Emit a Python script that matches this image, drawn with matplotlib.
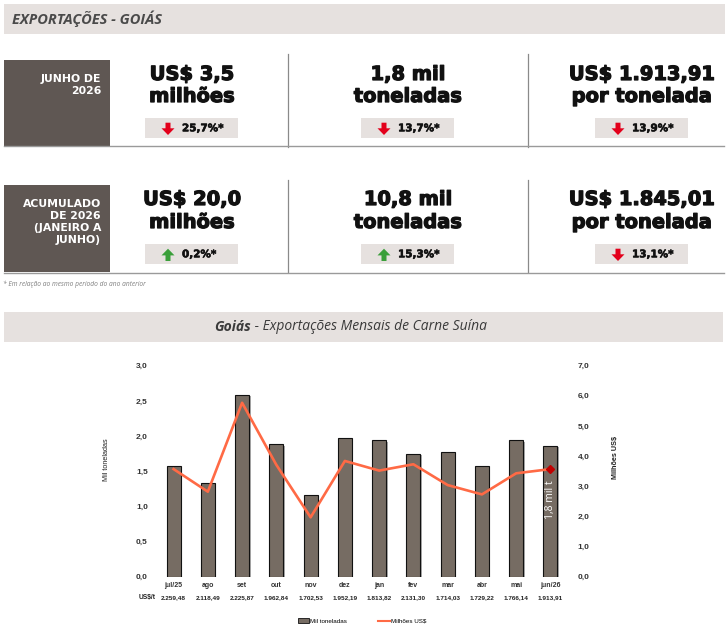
import matplotlib.pyplot as plt
import matplotlib.patches as mpatches
import matplotlib.patheffects as pe
import matplotlib.transforms as mtransforms
from matplotlib.lines import Line2D

# ==========================================
# DADOS
# ==========================================

meses = ['jul/25', 'ago', 'set', 'out', 'nov', 'dez', 'jan', 'fev', 'mar', 'abr', 'mai', 'jun/26']
toneladas = [1.58, 1.33, 2.59, 1.88, 1.16, 1.97, 1.94, 1.75, 1.78, 1.58, 1.94, 1.86]
milhoes_usd = [3.57, 2.82, 5.77, 3.71, 1.97, 3.84, 3.52, 3.73, 3.04, 2.73, 3.43, 3.57]
precos = ['2.259,48', '2.118,49', '2.225,87', '1.962,84', '1.702,53', '1.952,19',
          '1.813,82', '2.131,30', '1.714,03', '1.729,22', '1.766,14', '1.913,91']
rotulo_ultimo = '1,8 mil t'

periodos = ['JUNHO DE\n2026', 'ACUMULADO\nDE 2026\n(JANEIRO A\nJUNHO)']
kpi_textos = [
    ['US$ 3,5\nmilhões', '1,8 mil\ntoneladas', 'US$ 1.913,91\npor tonelada'],
    ['US$ 20,0\nmilhões', '10,8 mil\ntoneladas', 'US$ 1.845,01\npor tonelada'],
]
kpi_variacao = [
    [-25.7, -13.7, -13.9],
    [0.2, 15.3, -13.1],
]

CINZA_CLARO = '#e6e1df'
CINZA_ESCURO = '#5f5753'
COR_BARRA = '#766c63'
COR_LINHA = '#ff6a45'
VERMELHO = '#e3001b'
VERDE = '#3a9f3a'

# ==========================================
# FIGURA / FUNDO EM PIXELS
# ==========================================

fig = plt.figure(figsize=(7.27, 6.36), dpi=100)
bg = fig.add_axes([0, 0, 1, 1])
bg.set_xlim(0, 727)
bg.set_ylim(636, 0)
bg.axis('off')

# cabeçalho
bg.add_patch(mpatches.Rectangle((3.5, 3.5), 721, 30, color=CINZA_CLARO, lw=0))
bg.text(11.5, 19, 'EXPORTAÇÕES - GOIÁS', fontsize=10.5, fontweight='bold', style='italic',
        family='Open Sans', color='#4a4a4a', va='center', ha='left')

# blocos de indicadores
linhas_y = [(60, 147, 54, 145.5, [80, 102], 118.3, 74),
            (185, 272, 180, 272.5, [205, 228], 244.3, 199)]
centros = [192, 408, 642]
separadores = [288, 528]
grosso = [pe.withStroke(linewidth=0.9, foreground='#111111')]
medio = [pe.withStroke(linewidth=0.4, foreground='#111111')]

for r, (top, bot, sep_top, base_y, baselines, badge_y, lab_top) in enumerate(linhas_y):
    bg.add_patch(mpatches.Rectangle((3.5, top), 106, bot - top, color=CINZA_ESCURO, lw=0))
    bg.text(101, lab_top, periodos[r], color='white', fontsize=7.8, fontweight='bold',
            ha='right', va='top', linespacing=1.25)
    for sx in separadores:
        bg.plot([sx, sx], [sep_top, bot], color='#8a8a8a', lw=0.9)
    bg.plot([3.5, 724], [base_y, base_y], color='#9a9a9a', lw=1.0)

    for c, cx in enumerate(centros):
        for k, linha in enumerate(kpi_textos[r][c].split('\n')):
            bg.text(cx, baselines[k], linha, fontsize=14, fontweight='bold', color='#111111',
                    ha='center', va='baseline', path_effects=grosso)
        bx = cx - 47
        bg.add_patch(mpatches.Rectangle((bx, badge_y), 93, 20, color=CINZA_CLARO, lw=0))
        v = kpi_variacao[r][c]
        ax_c = bx + 23
        if v < 0:
            seta = mpatches.FancyArrow(ax_c, badge_y + 4.4, 0, 12.3, width=5, head_width=13,
                                       head_length=6.7, length_includes_head=True,
                                       color=VERMELHO, lw=0)
        else:
            seta = mpatches.FancyArrow(ax_c, badge_y + 16.7, 0, -12.3, width=5, head_width=13,
                                       head_length=6.7, length_includes_head=True,
                                       color=VERDE, lw=0)
        bg.add_patch(seta)
        txt = f'{abs(v):.1f}'.replace('.', ',') + '%*'
        bg.text(bx + 37, badge_y + 10, txt, fontsize=7.5, fontweight='bold', color='#111111',
                ha='left', va='center', path_effects=medio)

bg.text(3, 284, '* Em relação ao mesmo período do ano anterior', fontsize=4.8, style='italic',
        family='Open Sans', color='#808080', ha='left', va='center')

# título do gráfico
bg.add_patch(mpatches.Rectangle((3.5, 312), 719, 30, color=CINZA_CLARO, lw=0))
t1 = bg.text(214, 327, 'Goiás', fontsize=10, fontweight='bold', style='italic',
             family='Open Sans', color='#3a3a3a', ha='left', va='center')
bg.annotate(' - Exportações Mensais de Carne Suína', xy=(1, 0.5), xycoords=t1,
            fontsize=10, style='italic', family='Open Sans', color='#3a3a3a',
            ha='left', va='center')

# ==========================================
# GRÁFICO
# ==========================================

W, H = 727, 636
ax = fig.add_axes([152 / W, (H - 576.7) / H, 420 / W, 211 / H])
x = list(range(len(meses)))

ax.bar(x, toneladas, width=0.41, color=COR_BARRA, edgecolor='#111111', linewidth=0.8,
       path_effects=[pe.SimplePatchShadow(offset=(1, -1), shadow_rgbFace='#aaaaaa', alpha=1),
                     pe.Normal()])
ax.set_xlim(-0.63, 11.63)
ax.set_ylim(0, 3.0)
yt = [0, 0.5, 1.0, 1.5, 2.0, 2.5, 3.0]
ax.set_yticks(yt, [f'{v:.1f}'.replace('.', ',') for v in yt])
ax.set_xticks(x, meses)

ax2 = ax.twinx()
ax2.plot(x, milhoes_usd, color=COR_LINHA, lw=1.9)
ax2.plot(x[-1], milhoes_usd[-1], marker='D', color='#c00000', ms=4, zorder=5)
ax2.set_ylim(0, 7.0)
yt2 = [0, 1, 2, 3, 4, 5, 6, 7]
ax2.set_yticks(yt2, [f'{v:.1f}'.replace('.', ',') for v in yt2])

for a in (ax, ax2):
    for s in a.spines.values():
        s.set_visible(False)
    a.tick_params(length=0, labelsize=6, colors='#333333')
    for lab in a.get_yticklabels():
        lab.set_fontweight('bold')
        lab.set_family('Liberation Sans')
ax.tick_params(axis='y', pad=3)
ax2.tick_params(axis='y', pad=4)
ax.tick_params(axis='x', pad=4, labelsize=5)
for lab in ax.get_xticklabels():
    lab.set_fontweight('bold')
    lab.set_family('Liberation Sans')

ax.set_ylabel('Mil toneladas', fontsize=5.2, family='Liberation Sans', color='#222222')
ax.yaxis.set_label_coords(-0.099, 0.553)
ax2.set_ylabel('Milhões US$', fontsize=5.2, fontweight='bold', family='Liberation Sans',
               color='#222222')
ax2.yaxis.set_label_coords(1.096, 0.563)

ax.text(x[-1], 1.09, rotulo_ultimo, rotation=90, color='white', fontsize=7.5,
        ha='center', va='center', family='Open Sans')

trans = mtransforms.blended_transform_factory(ax.transData, ax.transAxes)
for i, p in enumerate(precos):
    ax.text(i, -0.0995, p, transform=trans, fontsize=4.6, fontweight='bold',
            family='Liberation Sans', color='#222222', ha='center', va='center')
bg.text(147, 598, 'US$/t', fontsize=4.8, fontweight='bold', family='Liberation Sans',
        color='#222222', ha='center', va='center')

handles = [mpatches.Patch(facecolor=COR_BARRA, edgecolor='#111111', lw=0.6, label='Mil toneladas'),
           Line2D([0], [0], color=COR_LINHA, lw=1.5, label='Milhões US$')]
fig.legend(handles=handles, loc='center', bbox_to_anchor=(362 / W, (H - 621) / H), ncol=2,
           frameon=False, prop={'family': 'Liberation Sans', 'size': 4.5},
           handlelength=1.8, handleheight=0.8, handletextpad=0.2, columnspacing=5)

plt.savefig('out.png', dpi=100)
